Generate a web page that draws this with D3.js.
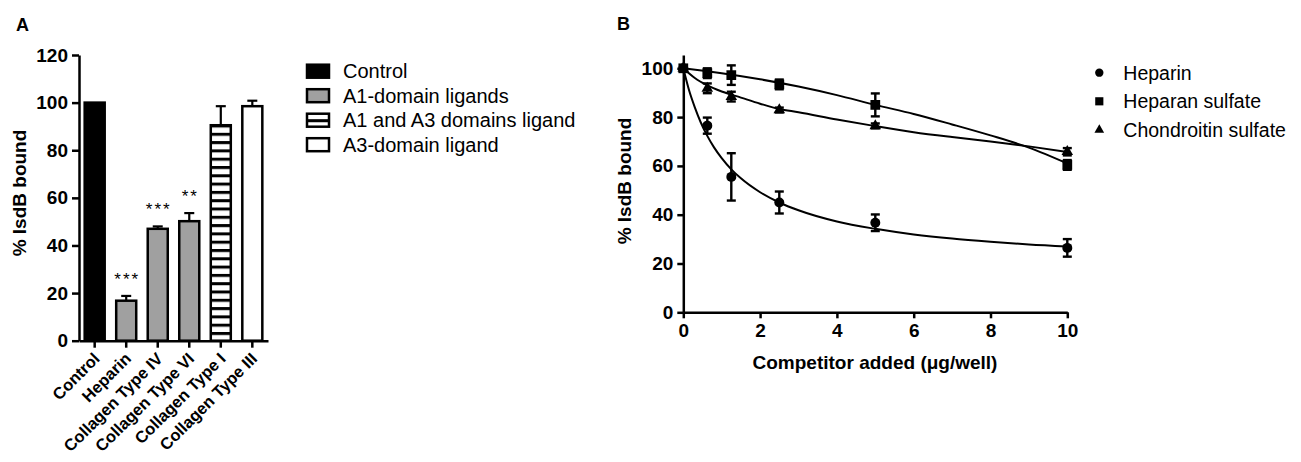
<!DOCTYPE html>
<html>
<head>
<meta charset="utf-8">
<script src="https://cdn.jsdelivr.net/npm/d3@7"></script>
<style>
  html, body { margin: 0; padding: 0; background: #fff; }
  svg { display: block; }
</style>
</head>
<body>
<div id="chart"></div>
<script>
// panel A data
var categoriesA = ["Control", "Heparin", "Collagen Type IV", "Collagen Type VI", "Collagen Type I", "Collagen Type III"];
var meansA = [100, 16.8, 47, 50.2, 90.5, 98.5];
var errorsA = [0, 2, 1, 3.4, 8, 2.3];
var groupsA = ["Control", "A1-domain ligands", "A1-domain ligands", "A1-domain ligands", "A1 and A3 domains ligand", "A3-domain ligand"];
var starsA = ["", "***", "***", "**", "", ""];
var legendA = ["Control", "A1-domain ligands", "A1 and A3 domains ligand", "A3-domain ligand"];
var ticksA = [0, 20, 40, 60, 80, 100, 120];

// panel B data
var doseB = [0, 0.625, 1.25, 2.5, 5, 10];
var heparinMean = [100, 76.5, 55.5, 45, 36.7, 26.4];
var heparinErr = [0, 3.3, 9.7, 4.5, 3.4, 3.6];
var heparanMean = [100, 98, 97.2, 93.4, 85, 60.4];
var heparanErr = [0, 2, 4, 2, 4.7, 2];
var chondMean = [100, 91.8, 88.4, 82.9, 76.4, 65.8];
var chondErr = [0, 2, 2, 1, 1, 1.5];

// fitted curves
var heparinFitX = [0, 0.15, 0.3, 0.45, 0.625, 0.8, 1, 1.25, 1.5, 2, 2.5, 3, 4, 5, 6, 7, 8, 9, 10];
var heparinFitY = [100, 91, 84, 78, 72.3, 67.6, 63.2, 58.6, 54.9, 49.2, 45, 41.8, 37.2, 34.2, 31.9, 30.2, 28.9, 27.8, 27];
var heparanFitX = [0, 1, 2, 3, 4, 5, 6, 7, 8, 9, 10];
var heparanFitY = [100, 98, 95.5, 92.5, 89, 85, 81.3, 77, 72.5, 67.5, 61];
var chondFitX = [0, 0.3, 0.625, 1, 1.5, 2, 2.5, 3, 4, 5, 6, 7, 8, 9, 10];
var chondFitY = [100, 96, 93, 90.5, 88, 85.5, 83.3, 82, 79, 76.3, 73.8, 71.8, 70, 68, 65.7];

var legendB = ["Heparin", "Heparan sulfate", "Chondroitin sulfate"];
var ticksBx = [0, 2, 4, 6, 8, 10];
var ticksBy = [0, 20, 40, 60, 80, 100];

var FONT = "'Liberation Sans', Arial, Helvetica, sans-serif";

var svg = d3.select("#chart").append("svg")
    .attr("width", 1301)
    .attr("height", 462)
    .style("font-family", FONT);

svg.append("rect").attr("width", 1301).attr("height", 462).attr("fill", "#fff");

var defs = svg.append("defs");

var addStripes = function (id, y0) {
    var p = defs.append("pattern")
        .attr("id", id)
        .attr("patternUnits", "userSpaceOnUse")
        .attr("width", 8)
        .attr("height", 8.3)
        .attr("y", y0);
    p.append("rect").attr("width", 8).attr("height", 8.3).attr("fill", "#fff");
    p.append("rect").attr("y", 0).attr("width", 8).attr("height", 3).attr("fill", "#000");
};
addStripes("stripesBar", 0);

var fillFor = {
    "Control": "#000",
    "A1-domain ligands": "#a0a0a0",
    "A1 and A3 domains ligand": "url(#stripesBar)",
    "A3-domain ligand": "#fff"
};

var styleAxis = function (g, size) {
    g.select(".domain").attr("stroke", "#000").attr("stroke-width", 2.5);
    g.selectAll(".tick line").attr("stroke", "#000").attr("stroke-width", 2.5);
    g.selectAll(".tick text")
        .attr("fill", "#000")
        .style("font-family", FONT)
        .style("font-weight", "bold")
        .style("font-size", size + "px");
};

// ---------------- panel A ----------------

var yA = d3.scaleLinear().domain([0, 120]).range([340.7, 55]);
var xA = d3.scaleBand()
    .domain(categoriesA)
    .range([79, 268])
    .paddingInner(0.365)
    .paddingOuter(0.18);

svg.append("text")
    .attr("x", 16).attr("y", 31)
    .style("font-weight", "bold").style("font-size", "18px")
    .text("A");

var barsA = svg.append("g");

barsA.selectAll("rect")
    .data(categoriesA)
    .enter()
    .append("rect")
    .attr("x", function (d) { return xA(d); })
    .attr("y", function (d, i) { return yA(meansA[i]); })
    .attr("width", xA.bandwidth())
    .attr("height", function (d, i) { return yA(0) - yA(meansA[i]); })
    .attr("fill", function (d, i) { return fillFor[groupsA[i]]; })
    .attr("stroke", "#000")
    .attr("stroke-width", 2.5);

// error bars (upper only)
barsA.selectAll("g.err")
    .data(categoriesA.filter(function (d, i) { return errorsA[i] > 0; }))
    .enter()
    .append("g")
    .attr("class", "err")
    .each(function (d) {
        var i = categoriesA.indexOf(d);
        var cx = xA(d) + xA.bandwidth() / 2;
        var g = d3.select(this);
        g.append("line")
            .attr("x1", cx).attr("x2", cx)
            .attr("y1", yA(meansA[i])).attr("y2", yA(meansA[i] + errorsA[i]))
            .attr("stroke", "#000").attr("stroke-width", 2.2);
        g.append("line")
            .attr("x1", cx - 5).attr("x2", cx + 5)
            .attr("y1", yA(meansA[i] + errorsA[i])).attr("y2", yA(meansA[i] + errorsA[i]))
            .attr("stroke", "#000").attr("stroke-width", 2.2);
    });

// significance stars
barsA.selectAll("text.star")
    .data(categoriesA)
    .enter()
    .append("text")
    .attr("class", "star")
    .attr("x", function (d) { return xA(d) + xA.bandwidth() / 2 + 1; })
    .attr("y", function (d, i) { return yA(meansA[i] + errorsA[i]) - 11; })
    .attr("text-anchor", "middle")
    .style("font-size", "17px")
    .style("letter-spacing", "2px")
    .text(function (d, i) { return starsA[i]; });

var axisLeftA = svg.append("g")
    .attr("transform", "translate(79,0)")
    .call(d3.axisLeft(yA).tickValues(ticksA).tickSize(7).tickSizeOuter(0).tickPadding(4));
styleAxis(axisLeftA, 19);

var axisBottomA = svg.append("g")
    .attr("transform", "translate(0," + yA(0) + ")")
    .call(d3.axisBottom(xA).tickSize(7).tickSizeOuter(0));
styleAxis(axisBottomA, 16.5);
axisBottomA.selectAll(".tick text")
    .attr("x", 0).attr("y", 0).attr("dy", 0)
    .attr("text-anchor", "end")
    .attr("transform", "translate(6,19) rotate(-45)");

svg.append("text")
    .attr("transform", "translate(26,193) rotate(-90)")
    .attr("text-anchor", "middle")
    .style("font-weight", "bold").style("font-size", "19px")
    .text("% IsdB bound");

// legend A
var legA = svg.append("g").selectAll("g")
    .data(legendA)
    .enter()
    .append("g")
    .attr("transform", function (d, i) { return "translate(307," + (71.2 + i * 24.5) + ")"; });

addStripes("stripesLeg", 71.2 + 2 * 24.5 - 6.5 + 1.5);
legA.append("rect")
    .attr("x", 0).attr("y", -6.5)
    .attr("width", 22).attr("height", 13)
    .attr("fill", function (d) { return d === "A1 and A3 domains ligand" ? "url(#stripesLeg)" : fillFor[d]; })
    .attr("stroke", "#000").attr("stroke-width", 2.5);
legA.append("text")
    .attr("x", 36).attr("y", 0).attr("dy", "0.36em")
    .style("font-size", "20px")
    .text(function (d) { return d; });

// ---------------- panel B ----------------

var xB = d3.scaleLinear().domain([0, 10]).range([683.3, 1067.3]);
var yB = d3.scaleLinear().domain([0, 105.5]).range([312.3, 312.3 - 105.5 * 2.44]);

svg.append("text")
    .attr("x", 617).attr("y", 30)
    .style("font-weight", "bold").style("font-size", "18px")
    .text("B");

var axisLeftB = svg.append("g")
    .attr("transform", "translate(" + xB(0) + ",0)")
    .call(d3.axisLeft(yB).tickValues(ticksBy).tickSize(6).tickSizeOuter(0).tickPadding(4));
styleAxis(axisLeftB, 19);

var axisBottomB = svg.append("g")
    .attr("transform", "translate(0," + yB(0) + ")")
    .call(d3.axisBottom(xB).tickValues(ticksBx).tickSize(6).tickSizeOuter(0).tickPadding(5));
styleAxis(axisBottomB, 19);

svg.append("text")
    .attr("transform", "translate(631,181) rotate(-90)")
    .attr("text-anchor", "middle")
    .style("font-weight", "bold").style("font-size", "19px")
    .text("% IsdB bound");

svg.append("text")
    .attr("x", 875).attr("y", 369)
    .attr("text-anchor", "middle")
    .style("font-weight", "bold").style("font-size", "19px")
    .text("Competitor added (\u03bcg/well)");

var seriesB = [
    {name: "Heparin", mean: heparinMean, err: heparinErr, fx: heparinFitX, fy: heparinFitY, shape: d3.symbolCircle, size: 78},
    {name: "Heparan sulfate", mean: heparanMean, err: heparanErr, fx: heparanFitX, fy: heparanFitY, shape: d3.symbolSquare, size: 95},
    {name: "Chondroitin sulfate", mean: chondMean, err: chondErr, fx: chondFitX, fy: chondFitY, shape: d3.symbolTriangle, size: 58}
];

var line = d3.line()
    .x(function (d) { return xB(d[0]); })
    .y(function (d) { return yB(d[1]); })
    .curve(d3.curveMonotoneX);

var plotB = svg.append("g");

seriesB.forEach(function (s) {

    var pts = s.fx.map(function (x, i) { return [x, s.fy[i]]; });

    plotB.append("path")
        .attr("d", line(pts))
        .attr("fill", "none")
        .attr("stroke", "#000")
        .attr("stroke-width", 2);

    var g = plotB.append("g");

    doseB.forEach(function (x, i) {
        if (s.err[i] <= 0) return;
        var cx = xB(x);
        var y1 = yB(s.mean[i] - s.err[i]);
        var y2 = yB(s.mean[i] + s.err[i]);
        g.append("line").attr("x1", cx).attr("x2", cx).attr("y1", y1).attr("y2", y2)
            .attr("stroke", "#000").attr("stroke-width", 2.4);
        g.append("line").attr("x1", cx - 4.5).attr("x2", cx + 4.5).attr("y1", y1).attr("y2", y1)
            .attr("stroke", "#000").attr("stroke-width", 2.4);
        g.append("line").attr("x1", cx - 4.5).attr("x2", cx + 4.5).attr("y1", y2).attr("y2", y2)
            .attr("stroke", "#000").attr("stroke-width", 2.4);
    });

    g.selectAll("path.pt")
        .data(doseB)
        .enter()
        .append("path")
        .attr("class", "pt")
        .attr("d", d3.symbol().type(s.shape).size(s.size))
        .attr("transform", function (x, i) { return "translate(" + xB(x) + "," + yB(s.mean[i]) + ")"; })
        .attr("fill", "#000");
});

// legend B
var legB = svg.append("g").selectAll("g")
    .data(seriesB)
    .enter()
    .append("g")
    .attr("transform", function (d, i) { return "translate(1099.3," + (72.7 + i * 28.6) + ")"; });

legB.append("path")
    .attr("d", function (d) { return d3.symbol().type(d.shape).size(d.size * 0.7)(); })
    .attr("fill", "#000");

legB.append("text")
    .attr("x", 24).attr("y", 0).attr("dy", "0.36em")
    .style("font-size", "19.5px")
    .text(function (d) { return d.name; });
</script>
</body>
</html>
